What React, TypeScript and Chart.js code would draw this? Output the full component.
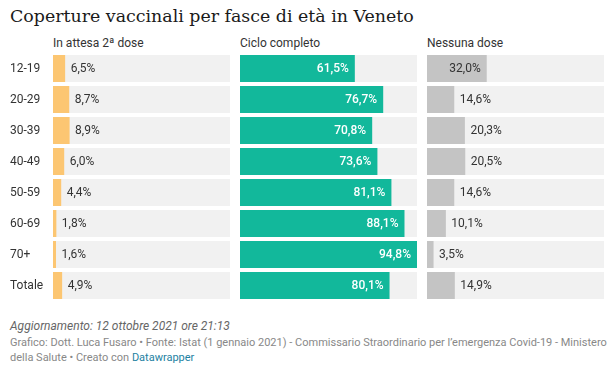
import React, { useEffect, useRef } from "react";
import { Chart, registerables } from "chart.js";

Chart.register(...registerables);

const categories = ["12-19", "20-29", "30-39", "40-49", "50-59", "60-69", "70+", "Totale"];
const attesa = [6.5, 8.7, 8.9, 6.0, 4.4, 1.8, 1.6, 4.9];
const ciclo = [61.5, 76.7, 70.8, 73.6, 81.1, 88.1, 94.8, 80.1];
const nessuna = [32.0, 14.6, 20.3, 20.5, 14.6, 10.1, 3.5, 14.9];

const panelTitles = ["In attesa 2ª dose", "Ciclo completo", "Nessuna dose"];
const panelColors = ["#fcc672", "#12b89b", "#c4c4c4"];
const insideColors = ["#ffffff", "#ffffff", "#333333"];

const scaleMax = Math.max(...attesa, ...ciclo, ...nessuna);
const trackValues = categories.map(() => scaleMax);

const fmt = (v: number) => v.toFixed(1).replace(".", ",") + "%";

const valueLabels = {
  id: "valueLabels",
  afterDatasetsDraw(chart: any, _args: any, opts: any) {
    const { ctx } = chart;
    const meta = chart.getDatasetMeta(0);
    const data = chart.data.datasets[0].data as number[];
    ctx.save();
    ctx.textBaseline = "middle";
    meta.data.forEach((bar: any, i: number) => {
      const txt = fmt(data[i]);
      ctx.font = "12px Roboto";
      const w = ctx.measureText(txt).width;
      const start = bar.base;
      const end = bar.x;
      if (end - start > w + 12) {
        ctx.textAlign = "right";
        ctx.fillStyle = opts.insideColor;
        ctx.font = opts.insideFont;
        ctx.fillText(txt, end - 6, bar.y + 0.5);
      } else {
        ctx.textAlign = "left";
        ctx.fillStyle = "#333333";
        ctx.fillText(txt, end + 5.5, bar.y + 0.5);
      }
    });
    ctx.restore();
  },
};

function makeChart(canvas: HTMLCanvasElement, values: number[], idx: number) {
  const withAxis = idx === 0;
  const yScale: any = {
    display: withAxis,
    grid: { display: false },
    border: { display: false },
    ticks: {
      crossAlign: "far",
      color: "#333333",
      font: { family: "Roboto", size: 12 },
    },
  };
  if (withAxis) {
    yScale.afterFit = (s: any) => {
      s.width = 43;
      s.paddingTop = 0;
      s.paddingBottom = 0;
    };
  }
  return new Chart(canvas, {
    type: "bar",
    data: {
      labels: categories,
      datasets: [
        {
          data: values,
          backgroundColor: panelColors[idx],
          borderWidth: 0,
          grouped: false,
          order: 0,
          barPercentage: 27 / 31,
          categoryPercentage: 1,
        },
        {
          data: trackValues,
          backgroundColor: "#f1f1f1",
          borderWidth: 0,
          grouped: false,
          order: 1,
          barPercentage: 27 / 31,
          categoryPercentage: 1,
        },
      ],
    },
    options: {
      indexAxis: "y",
      animation: false,
      responsive: true,
      maintainAspectRatio: false,
      events: [],
      layout: { padding: { left: withAxis ? 10 : 0, right: 0, top: 0, bottom: 0 } },
      plugins: {
        legend: { display: false },
        tooltip: { enabled: false },
        title: { display: false },
        valueLabels: {
          insideColor: insideColors[idx],
          insideFont: idx === 1 ? "500 12px Roboto" : "12px Roboto",
        },
      } as any,
      scales: {
        x: { display: false, min: 0, max: scaleMax },
        y: yScale,
      },
    },
    plugins: [valueLabels],
  } as any);
}

const panelLefts = [0, 240, 427];
const panelWidths = [230, 177, 177];
const headerLefts = [53, 240, 427];

export default function App() {
  const r1 = useRef<HTMLCanvasElement>(null);
  const r2 = useRef<HTMLCanvasElement>(null);
  const r3 = useRef<HTMLCanvasElement>(null);

  useEffect(() => {
    const series = [attesa, ciclo, nessuna];
    const refs = [r1, r2, r3];
    const charts = refs.map((r, i) => makeChart(r.current!, series[i], i));
    return () => charts.forEach((c) => c.destroy());
  }, []);

  const refs = [r1, r2, r3];

  return (
    <div
      style={{
        position: "absolute",
        left: 0,
        top: 0,
        width: 612,
        height: 368,
        background: "#ffffff",
        fontFamily: "Roboto, sans-serif",
        overflow: "hidden",
      }}
    >
      <div
        style={{
          position: "absolute",
          left: 10,
          top: 5,
          fontFamily: "'DejaVu Serif', serif",
          fontSize: 17.4,
          lineHeight: "22px",
          color: "#1a1a1a",
          whiteSpace: "nowrap",
        }}
      >
        Coperture vaccinali per fasce di età in Veneto
      </div>
      {panelTitles.map((t, i) => (
        <div
          key={t}
          style={{
            position: "absolute",
            left: headerLefts[i],
            top: 36,
            fontSize: 12,
            lineHeight: "14px",
            color: "#333333",
            whiteSpace: "nowrap",
          }}
        >
          {t}
        </div>
      ))}
      {refs.map((r, i) => (
        <div
          key={i}
          style={{
            position: "absolute",
            left: panelLefts[i],
            top: 53,
            width: panelWidths[i],
            height: 248,
          }}
        >
          <canvas ref={r} />
        </div>
      ))}
      <div
        style={{
          position: "absolute",
          left: 10,
          top: 319,
          fontSize: 12,
          lineHeight: "14px",
          fontStyle: "italic",
          color: "#666666",
          whiteSpace: "nowrap",
        }}
      >
        Aggiornamento: 12 ottobre 2021 ore 21:13
      </div>
      <div
        style={{
          position: "absolute",
          left: 10,
          top: 335,
          fontSize: 11,
          lineHeight: "15px",
          color: "#888888",
          whiteSpace: "nowrap",
        }}
      >
        Grafico: Dott. Luca Fusaro • Fonte: Istat (1 gennaio 2021) - Commissario Straordinario per l’emergenza Covid-19 - Ministero
        <br />
        della Salute • Creato con <span style={{ color: "#1d81a2" }}>Datawrapper</span>
      </div>
    </div>
  );
}
